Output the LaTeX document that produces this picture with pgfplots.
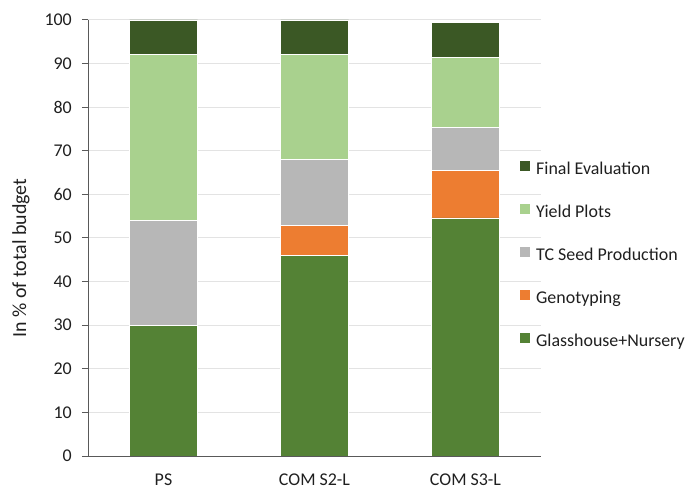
\documentclass[border=0pt]{standalone}
\usepackage{pgfplots}
\pgfplotsset{compat=1.18}
\usepackage{fontspec}
\setmainfont{Carlito}

\definecolor{glasshouse}{HTML}{548235}
\definecolor{genotyping}{HTML}{ED7D31}
\definecolor{tcseed}{HTML}{B7B7B7}
\definecolor{yieldplots}{HTML}{A9D18E}
\definecolor{finaleval}{HTML}{3B5825}
\definecolor{gridgray}{HTML}{E3E3E3}
\definecolor{axisgray}{HTML}{595959}

\begin{document}
\begin{tikzpicture}
\path (0,0) rectangle (697bp,492bp);
\begin{axis}[
  at={(88bp,36bp)}, anchor=south west,
  scale only axis, width=453bp, height=436bp,
  ybar stacked, bar width=68bp,
  xmin=-0.5, xmax=2.5, ymin=0, ymax=100,
  xtick={0,1,2}, xticklabels={PS, COM S2-L, COM S3-L},
  ytick={0,10,...,100},
  ymajorgrids, grid style={draw=gridgray, line width=1bp},
  axis x line*=bottom, axis y line*=left,
  axis line style={draw=axisgray, line width=1bp},
  tick align=outside, major tick length=6bp,
  ytick style={draw=axisgray, line width=1bp},
  xtick style={draw=none},
  tick label style={font=\fontsize{18}{21}\selectfont, text=black!88},
  /pgf/number format/assume math mode=true,
  yticklabel style={inner sep=0pt, xshift=-10bp},
  xticklabel style={inner sep=0pt, yshift=-12bp},
  ylabel={In \% of total budget},
  ylabel style={at={(axis description cs:-0.148,0.454)}, anchor=center,
    font=\fontsize{20}{23}\selectfont, text=black!88},
  reverse legend,
  legend cell align=left,
  legend style={at={(rel axis cs:0.954,0.676)}, anchor=north west,
    draw=none, fill=none, inner sep=0pt, outer sep=0pt, row sep=25.5bp,
    font=\fontsize{18}{21}\selectfont, text=black!88,
    nodes={inner sep=0pt, text height=13bp, text depth=4bp},
    /tikz/every odd column/.append style={column sep=6bp}},
  legend image code/.code={\fill[#1, draw=none] (0bp,-1bp) rectangle (10bp,9bp);},
  every axis plot/.append style={draw=white, line width=0.6bp},
]
\addplot[fill=glasshouse] coordinates {(0,30.0) (1,46.0) (2,54.6)};
\addlegendentry{Glasshouse+Nursery}
\addplot[fill=genotyping] coordinates {(0,0.0) (1,6.9) (2,10.9)};
\addlegendentry{Genotyping}
\addplot[fill=tcseed] coordinates {(0,24.0) (1,15.2) (2,9.9)};
\addlegendentry{TC Seed Production}
\addplot[fill=yieldplots] coordinates {(0,38.2) (1,24.0) (2,16.0)};
\addlegendentry{Yield Plots}
\addplot[fill=finaleval] coordinates {(0,7.8) (1,7.9) (2,8.1)};
\addlegendentry{Final Evaluation}
\end{axis}
\end{tikzpicture}
\end{document}
